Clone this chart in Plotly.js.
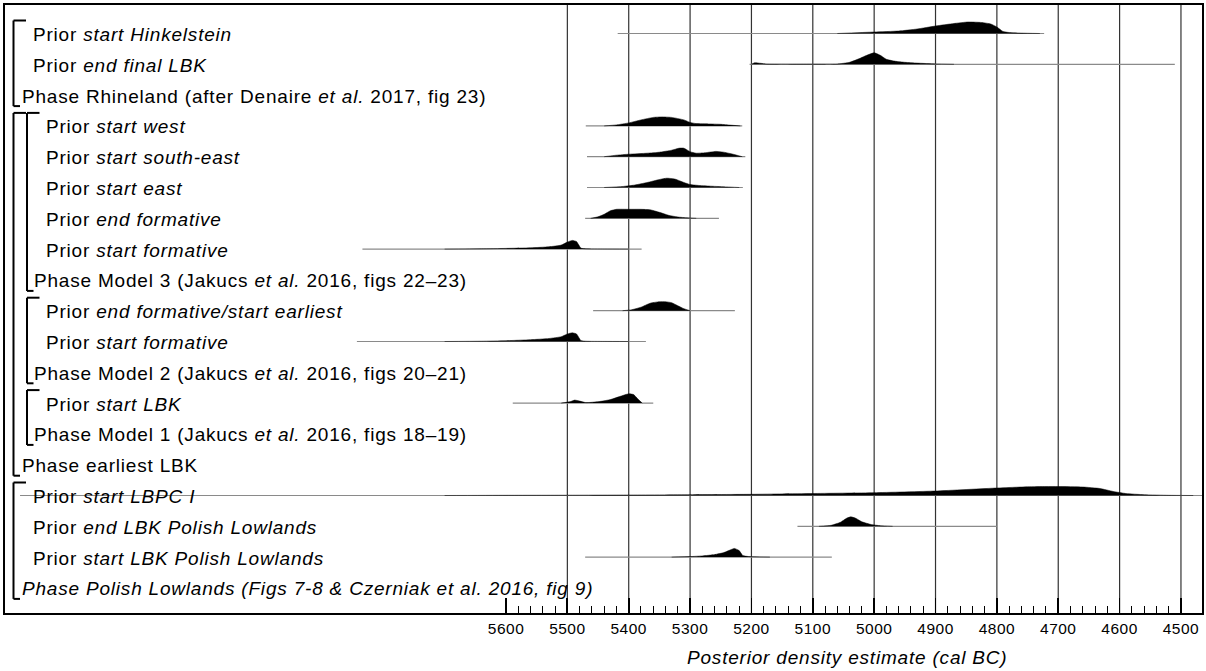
<!DOCTYPE html>
<html>
<head>
<meta charset="utf-8">
<script src="https://cdn.plot.ly/plotly-3.0.1.min.js"></script>
<style>
html,body{margin:0;padding:0;background:#fff;}
#chart{width:1206px;height:671px;}
#chart .annotation-text{letter-spacing:0.8px;}
#chart .xtick text{letter-spacing:0.5px;}
</style>
</head>
<body>
<div id="chart"></div>
<script>
// ---------------- DATA ----------------
const rowLabels = [
  "Prior <i>start Hinkelstein</i>",
  "Prior <i>end final LBK</i>",
  "Phase Rhineland (after Denaire <i>et al.</i> 2017, fig 23)",
  "Prior <i>start west</i>",
  "Prior <i>start south-east</i>",
  "Prior <i>start east</i>",
  "Prior <i>end formative</i>",
  "Prior <i>start formative</i>",
  "Phase Model 3 (Jakucs <i>et al.</i> 2016, figs 22–23)",
  "Prior <i>end formative/start earliest</i>",
  "Prior <i>start formative</i>",
  "Phase Model 2 (Jakucs <i>et al.</i> 2016, figs 20–21)",
  "Prior <i>start LBK</i>",
  "Phase Model 1 (Jakucs <i>et al.</i> 2016, figs 18–19)",
  "Phase earliest LBK",
  "Prior <i>start LBPC I</i>",
  "Prior <i>end LBK Polish Lowlands</i>",
  "Prior <i>start LBK Polish Lowlands</i>",
  "<i>Phase Polish Lowlands (Figs 7-8 &amp; Czerniak et al. 2016, fig 9)</i>"
];
// indentation level of each label
const rowLevels = [1,1,0,2,2,2,2,2,1,2,2,1,2,1,0,1,1,1,0];

const tickYears = [5600,5500,5400,5300,5200,5100,5000,4900,4800,4700,4600,4500];
const tickText  = ["5600","5500","5400","5300","5200","5100","5000","4900","4800","4700","4600","4500"];
const gridYears = [5500,5400,5300,5200,5100,5000,4900,4800,4700,4600,4500];
const axisTitle = "Posterior density estimate (cal BC)";

// Prior distributions: row index, range of the thin line, density curve (years, relative density)
const hinkRow = 0, hinkRange = [5418, 4723];
const hinkYears = [5060,5000,4960,4930,4900,4870,4847,4825,4810,4800,4790,4780,4760,4730];
const hinkDens  = [0,   1.5, 2.5, 4.5, 7.5, 10,  11.5,11,  9.5, 6.5, 2,   1,   0.4, 0];

const finalRow = 1, finalRange = [5203, 4510];
const finalYears = [5200,5195,5185,5175,5100,5060,5040,5025,5010,5000,4990,4980,4965,4950,4930,4900,4870];
const finalDens  = [0,   1.5, 1,   0.3, 0.2, 0.3, 2,   5.5, 9.5, 11.5,9,   5,   3,   2,   1.2, 0.4, 0];

const westRow = 3, westRange = [5470, 5215];
const westYears = [5440,5420,5400,5380,5360,5346,5330,5310,5300,5290,5270,5250,5235,5218];
const westDens  = [0,   1,   3,   6,   8.5, 9,   8.5, 6,   3.5, 2.3, 2,   1.6, 0.8, 0];

const seRow = 4, seRange = [5468, 5210];
const seYears = [5440,5420,5400,5370,5350,5330,5318,5310,5300,5290,5275,5258,5245,5230,5215];
const seDens  = [0,   1.5, 2.5, 3.5, 4.5, 6.5, 8.5, 8.5, 5,   3.5, 4,   5.3, 4.5, 2.5, 0];

const eastRow = 5, eastRange = [5468, 5214];
const eastYears = [5440,5410,5390,5370,5350,5338,5325,5310,5300,5285,5265,5240,5220];
const eastDens  = [0,   1,   2.5, 5,   8,   9.3, 8.5, 5,   3,   2,   1.3, 0.6, 0];

const endFormRow = 6, endFormRange = [5471, 5253];
const endFormYears = [5462,5450,5440,5430,5420,5400,5380,5365,5350,5335,5320,5305,5290];
const endFormDens  = [0,   1.5, 4,   7.5, 9,   9,   9,   8.5, 6,   3,   1.3, 0.5, 0];

const startForm3Row = 7, startForm3Range = [5834, 5379];
const startForm3Years = [5700,5640,5600,5560,5530,5510,5500,5492,5485,5478,5470,5440,5400];
const startForm3Dens  = [0,   0.3, 0.7, 1.3, 2.3, 4,   7,   8.7, 7.5, 1,   0.3, 0.1, 0];

const endEarlRow = 9, endEarlRange = [5458, 5227];
const endEarlYears = [5410,5395,5380,5365,5350,5340,5330,5320,5310,5300];
const endEarlDens  = [0,   1,   3.5, 7.5, 9,   9,   8,   5,   2,   0];

const startForm2Row = 10, startForm2Range = [5843, 5372];
const startForm2Years = [5700,5640,5600,5560,5530,5510,5500,5492,5485,5478,5470,5440,5400];
const startForm2Dens  = [0,   0.3, 0.8, 1.8, 3,   4.8, 7.5, 8.7, 7.5, 1,   0.3, 0.1, 0];

const lbkRow = 12, lbkRange = [5589, 5360];
const lbkYears = [5510,5495,5488,5480,5470,5460,5445,5430,5415,5400,5392,5385,5378];
const lbkDens  = [0,   1.5, 3,   2,   0.5, 0.8, 1.8, 3.5, 6.5, 9.3, 8.5, 4,   0];

const lbpcRow = 15, lbpcRange = [6392, 4440];
const lbpcYears = [5700,5600,5500,5400,5300,5200,5150,5100,5000,4900,4800,4750,4720,4700,4660,4632,4610,4590,4560,4520,4480];
const lbpcDens  = [0,   0.2, 0.3, 0.5, 0.8, 1.2, 1.6, 2,   2.8, 4.5, 7.5, 8.7, 9,   9,   8.5, 7,   4,   2,   0.8, 0.2, 0];

const endPolRow = 16, endPolRange = [5125, 4800];
const endPolYears = [5090,5070,5055,5045,5038,5030,5020,5005,4990,4970];
const endPolDens  = [0,   1,   4,   8,   9.5, 8,   4.5, 1.8, 0.6, 0];

const startPolRow = 17, startPolRange = [5471, 5069];
const startPolYears = [5330,5300,5280,5260,5245,5235,5228,5220,5214,5205,5195,5170];
const startPolDens  = [0,   0.5, 1.2, 2.5, 4.5, 7,   8.7, 6.5, 1.5, 0.6, 0.3, 0];

// Bracket groups: [first row, last row, level]
const groups = [[0,2,0],[3,14,0],[3,8,1],[9,11,1],[12,13,1],[15,18,0]];

// ---------------- LAYOUT CONSTANTS ----------------
const W = 1206, H = 671;
const M = {l:5, r:4, t:5, b:58};
const plotW = W - M.l - M.r;
const pxPerYear = 0.6136;
const yearAtPx = function(px){ return 5600 - (px - 506) / pxPerYear; };
const xRange = [yearAtPx(M.l), yearAtPx(W - M.r)];
const rowPx = 30.8;
const yRange = [-18 - 25.1/rowPx, 28.5/rowPx];
const densScale = 1 / rowPx; // one density unit = 1px
const px2paper = function(px){ return (px - M.l) / plotW; };
const FONT = 'Liberation Sans, Arial, sans-serif';

const priors = [
  [hinkRow, hinkRange, hinkYears, hinkDens],
  [finalRow, finalRange, finalYears, finalDens],
  [westRow, westRange, westYears, westDens],
  [seRow, seRange, seYears, seDens],
  [eastRow, eastRange, eastYears, eastDens],
  [endFormRow, endFormRange, endFormYears, endFormDens],
  [startForm3Row, startForm3Range, startForm3Years, startForm3Dens],
  [endEarlRow, endEarlRange, endEarlYears, endEarlDens],
  [startForm2Row, startForm2Range, startForm2Years, startForm2Dens],
  [lbkRow, lbkRange, lbkYears, lbkDens],
  [lbpcRow, lbpcRange, lbpcYears, lbpcDens],
  [endPolRow, endPolRange, endPolYears, endPolDens],
  [startPolRow, startPolRange, startPolYears, startPolDens]
];

const traces = [];
priors.forEach(function(p){
  const base = -p[0];
  traces.push({
    type:'scatter', mode:'lines', x:[p[1][0], p[1][1]], y:[base, base],
    line:{color:'#8a8a8a', width:1.2}, hoverinfo:'skip', showlegend:false
  });
  traces.push({
    type:'scatter', mode:'lines', x:p[2], y:p[3].map(function(d){ return base + d*densScale; }),
    fill:'toself', fillcolor:'#000', line:{color:'#000', width:0.5, shape:'spline', smoothing:0.5},
    hoverinfo:'skip', showlegend:false
  });
});

const shapes = [];
gridYears.forEach(function(g){
  shapes.push({type:'line', xref:'x', yref:'paper', x0:g, x1:g, y0:0, y1:1,
    line:{color:'#333', width:1.2}, layer:'below'});
});
// brackets
const bracketX = [13.5, 27];
groups.forEach(function(g){
  const bx = bracketX[g[2]];
  const yTop = -g[0] + 13/rowPx;
  const yBot = -g[1] - 11/rowPx;
  const topEnd = bx + 12.5;
  const botEnd = bx + 6.5;
  const L = {color:'#000', width:2};
  shapes.push({type:'line', xref:'paper', yref:'y', x0:px2paper(bx), x1:px2paper(bx), y0:yTop, y1:yBot, line:L});
  shapes.push({type:'line', xref:'paper', yref:'y', x0:px2paper(bx), x1:px2paper(topEnd), y0:yTop, y1:yTop, line:L});
  shapes.push({type:'line', xref:'paper', yref:'y', x0:px2paper(bx), x1:px2paper(botEnd), y0:yBot, y1:yBot, line:L});
});

const labelX = {0:19.5, 1:31, 2:43.5};
const annotations = rowLabels.map(function(t, i){
  let lev = rowLevels[i];
  let px = labelX[lev];
  if (lev === 1 && (i === 8 || i === 11 || i === 13)) px = 32;
  return {text:t, xref:'paper', yref:'y', x:px2paper(px), y:-i, xanchor:'left', yanchor:'middle', align:'left',
    showarrow:false, yshift:-1, font:{family:FONT, size:19, color:'#000'}};
});
annotations.push({text:'<i>'+axisTitle+'</i>', xref:'x', yref:'paper', x:(tickYears[0]+tickYears[tickYears.length-1])/2,
  y:(M.b - 14)/-(H - M.t - M.b), yanchor:'middle', xanchor:'center', showarrow:false, xshift:4,
  font:{family:FONT, size:19, color:'#000'}});

const minorVals = [];
for (let i = 0; i < tickYears.length - 1; i++) {
  for (let j = 1; j < 5; j++) minorVals.push(tickYears[i] - 20*j);
}

const layout = {
  width:W, height:H, margin:M, paper_bgcolor:'#fff', plot_bgcolor:'#fff', showlegend:false,
  xaxis:{range:xRange, showgrid:false, zeroline:false, showline:true, mirror:true, linecolor:'#000', linewidth:2,
    tickmode:'array', tickvals:tickYears, ticktext:tickText, ticks:'inside', ticklen:15, tickwidth:1.8, tickcolor:'#000',
    tickfont:{family:FONT, size:15.5, color:'#000'},
    minor:{tickmode:'array', tickvals:minorVals, ticks:'inside', ticklen:7, tickwidth:1, tickcolor:'#000', showgrid:false}},
  yaxis:{range:yRange, showgrid:false, zeroline:false, showline:true, mirror:true, linecolor:'#000', linewidth:2,
    showticklabels:false, ticks:''},
  shapes:shapes, annotations:annotations
};

Plotly.newPlot('chart', traces, layout, {staticPlot:true, displayModeBar:false});
</script>
</body>
</html>
